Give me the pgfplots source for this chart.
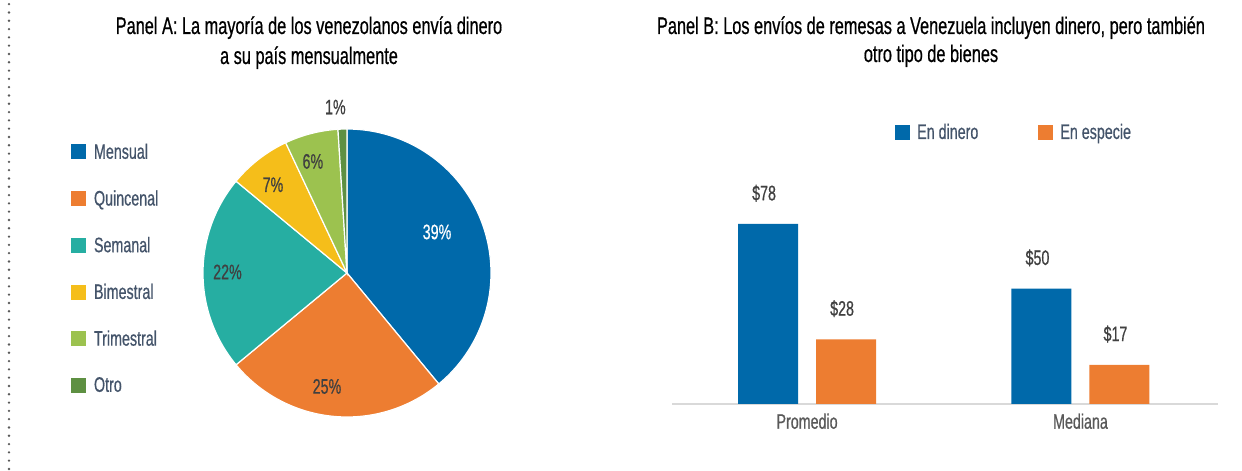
\documentclass[border=0pt]{standalone}
\usepackage{fontspec}
\setmainfont{Liberation Sans}[FakeStretch=0.68, FakeBold=0.6]
\usepackage{pgfplots}
\pgfplotsset{compat=1.18}
\usepgfplotslibrary{polar}

\definecolor{cmensual}{HTML}{0069AA}
\definecolor{cquincenal}{HTML}{ED7D31}
\definecolor{csemanal}{HTML}{26AEA2}
\definecolor{cbimestral}{HTML}{F5BE1A}
\definecolor{ctrimestral}{HTML}{9CC24F}
\definecolor{cotro}{HTML}{5E9042}
\definecolor{legtext}{HTML}{44546A}
\definecolor{lbltext}{HTML}{404040}
\definecolor{cattext}{HTML}{595959}
\definecolor{cbase}{HTML}{D9D9D9}

\pgfplotsset{
  sqlegend/.style={legend image code/.code={\fill[##1,draw=none] (0pt,-7.5pt) rectangle (15pt,7.5pt); \path (20pt,0pt);}},
}

\begin{document}
\begin{tikzpicture}
\path[use as bounding box] (0pt,0pt) rectangle (1242pt,471pt);
\draw[black!65, line width=2.6pt, line cap=round, dash pattern=on 0pt off 8.3pt] (9pt,2pt) -- (9pt,471pt);

% titles
\node[anchor=base, font=\fontsize{24}{28}\selectfont] at (309pt,437pt) {Panel A: La mayoría de los venezolanos envía dinero};
\node[anchor=base, font=\fontsize{24}{28}\selectfont] at (309pt,407pt) {a su país mensualmente};
\node[anchor=base, font=\fontsize{24}{28}\selectfont] at (931pt,437pt) {Panel B: Los envíos de remesas a Venezuela incluyen dinero, pero también};
\node[anchor=base, font=\fontsize{24}{28}\selectfont] at (931pt,409pt) {otro tipo de bienes};

% Panel A: pie, shares in percent, clockwise from 12 o'clock (1% = 3.6 deg)
\begin{polaraxis}[
  hide axis, scale only axis, width=288pt, height=288pt,
  ymin=0, ymax=1, at={(347pt,198pt)}, anchor=center, clip=false,
  sqlegend,
  legend cell align=left,
  legend style={at={(-0.468,0.964)}, anchor=north west, draw=none, fill=none,
    font=\fontsize{21}{25}\selectfont, text=legtext, row sep=26pt,
    nodes={inner sep=2pt}},
]
\addplot[fill=cmensual, draw=white, line width=1.2pt, domain={90-3.6*39}:90, samples=90] {1} -- (0,0) -- cycle;
\addlegendentry{Mensual}
\addplot[fill=cquincenal, draw=white, line width=1.2pt, domain={90-3.6*64}:{90-3.6*39}, samples=60] {1} -- (0,0) -- cycle;
\addlegendentry{Quincenal}
\addplot[fill=csemanal, draw=white, line width=1.2pt, domain={90-3.6*86}:{90-3.6*64}, samples=60] {1} -- (0,0) -- cycle;
\addlegendentry{Semanal}
\addplot[fill=cbimestral, draw=white, line width=1.2pt, domain={90-3.6*93}:{90-3.6*86}, samples=20] {1} -- (0,0) -- cycle;
\addlegendentry{Bimestral}
\addplot[fill=ctrimestral, draw=white, line width=1.2pt, domain={90-3.6*99}:{90-3.6*93}, samples=20] {1} -- (0,0) -- cycle;
\addlegendentry{Trimestral}
\addplot[fill=cotro, draw=white, line width=1.2pt, domain={90-3.6*100}:{90-3.6*99}, samples=5] {1} -- (0,0) -- cycle;
\addlegendentry{Otro}
\begin{scope}[font=\fontsize{21}{25}\selectfont, text=lbltext]
\node[text=white] at (axis cs:24.5,0.687) {39\%};
\node at (axis cs:-100,0.80) {25\%};
\node at (axis cs:179.5,0.83) {22\%};
\node at (axis cs:130,0.80) {7\%};
\node at (axis cs:107,0.81) {6\%};
\node at (axis cs:94,1.155) {1\%};
\end{scope}
\end{polaraxis}

% Panel B: bars
\begin{axis}[
  at={(672pt,67pt)}, anchor=south west,
  scale only axis, width=546pt, height=230.8pt,
  ybar=18pt, bar width=60pt,
  xmin=-0.494, xmax=1.503, ymin=0, ymax=100,
  xtick={0,1}, xticklabels={Promedio,Mediana},
  xticklabel style={font=\fontsize{21}{25}\selectfont, text=cattext, yshift=-6pt},
  major tick length=0pt, ytick=\empty,
  axis x line*=bottom, axis y line=none,
  x axis line style={cbase, line width=2.6pt},
  /pgf/number format/assume math mode=true,
  nodes near coords={\$\pgfmathprintnumber{\pgfplotspointmeta}},
  every node near coord/.append style={font=\fontsize{21}{25}\selectfont, text=lbltext,
    anchor=south, inner sep=0pt, yshift=22pt, xshift=-4pt},
  sqlegend,
  legend columns=2,
  legend style={at={(0.403,1.178)}, anchor=west, draw=none, fill=none,
    font=\fontsize{21}{25}\selectfont, text=legtext,
    /tikz/every even column/.append style={column sep=58pt}},
  clip=false,
]
\addplot[fill=cmensual, draw=none] coordinates {(0,78) (1,50)};
\addlegendentry{En dinero}
\addplot[fill=cquincenal, draw=none] coordinates {(0,28) (1,17)};
\addlegendentry{En especie}
\end{axis}
\end{tikzpicture}
\end{document}
